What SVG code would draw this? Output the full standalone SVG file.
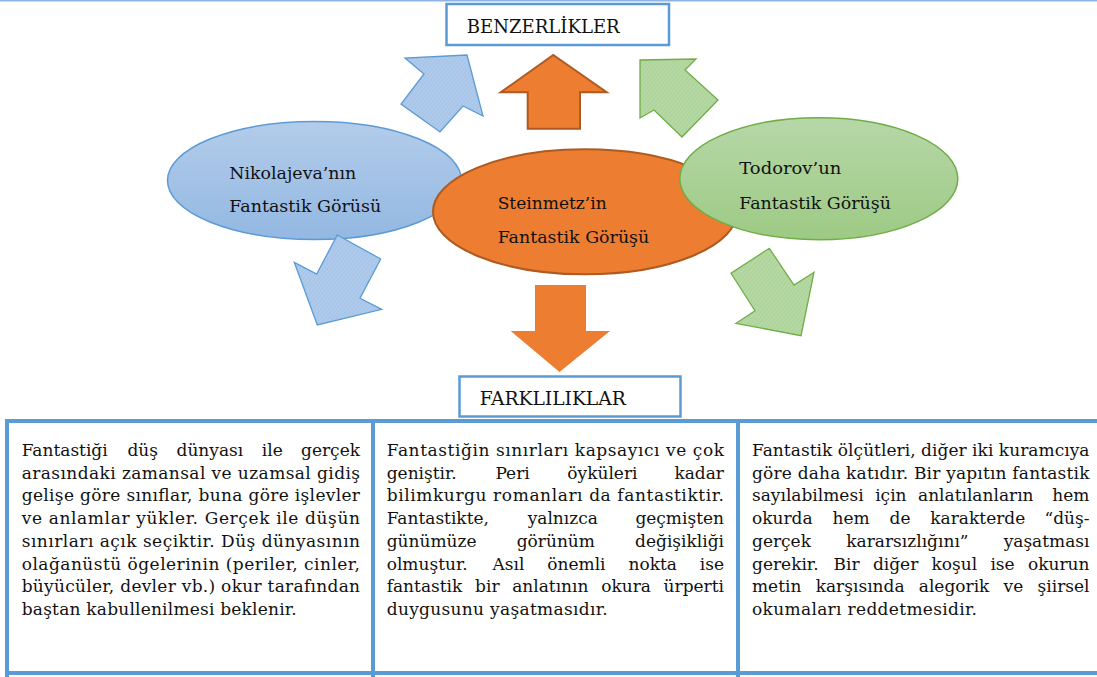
<svg xmlns="http://www.w3.org/2000/svg" width="1097" height="677" viewBox="0 0 1097 677">
<style>
.t{font-family:"DejaVu Serif","Liberation Serif",serif;font-size:17px;fill:#111}
.n{font-family:"DejaVu Serif","Liberation Serif",serif;font-size:17.5px;fill:#111}
.h{font-family:"DejaVu Serif","Liberation Serif",serif;font-size:18px;fill:#111}
.box{fill:#fff;stroke:#5B9BD5;stroke-width:2.5}
.tbl{stroke:#5B9BD5;stroke-width:4;fill:none}
.e{text-anchor:end}
</style>
<defs>
<linearGradient id="gb" x1="0" y1="0" x2="0" y2="1"><stop offset="0" stop-color="#B3CCEA"/><stop offset="1" stop-color="#93B8E2"/></linearGradient>
<linearGradient id="gg" x1="0" y1="0" x2="0" y2="1"><stop offset="0" stop-color="#B7D7A8"/><stop offset="1" stop-color="#9DCA84"/></linearGradient>
<pattern id="hb" patternUnits="userSpaceOnUse" width="3" height="3" patternTransform="rotate(40)"><rect width="3" height="3" fill="#AFCAEA"/><line x1="0" y1="0" x2="0" y2="3" stroke="#9ABDE5" stroke-width="1"/></pattern>
<pattern id="hg" patternUnits="userSpaceOnUse" width="3" height="3" patternTransform="rotate(40)"><rect width="3" height="3" fill="#B6D8A4"/><line x1="0" y1="0" x2="0" y2="3" stroke="#A1CC8A" stroke-width="1"/></pattern>
</defs>
<line x1="0" y1="0.8" x2="1097" y2="0.8" stroke="#8EB4E3" stroke-width="1.6"/>

<g id="benzerlikler">
<rect class="box" x="446.5" y="4" width="222.5" height="41"/>
<text class="h" x="466.7" y="33.3" textLength="153" lengthAdjust="spacingAndGlyphs">BENZERLİKLER</text>
</g>

<g id="nikolajeva">
<ellipse cx="314.5" cy="180.5" rx="147" ry="59" fill="url(#gb)" stroke="#5B9BD5" stroke-width="1.5"/>
<text class="n" x="229.3" y="179" textLength="127" lengthAdjust="spacingAndGlyphs">Nikolajeva’nın</text>
<text class="n" x="229.3" y="211.7" textLength="152" lengthAdjust="spacingAndGlyphs">Fantastik Görüsü</text>
</g>

<g id="steinmetz">
<ellipse cx="585" cy="211.8" rx="152" ry="62.5" fill="#ED7D31" stroke="#AE5A21" stroke-width="2"/>
<text class="n" x="497.7" y="209" textLength="109" lengthAdjust="spacingAndGlyphs">Steinmetz’in</text>
<text class="n" x="497.7" y="242.7" textLength="151.6" lengthAdjust="spacingAndGlyphs">Fantastik Görüşü</text>
</g>

<g id="todorov">
<ellipse cx="818.8" cy="178.7" rx="139" ry="61" fill="url(#gg)" stroke="#70AD47" stroke-width="1.5"/>
<text class="n" x="739.3" y="174.3" textLength="102" lengthAdjust="spacingAndGlyphs">Todorov’un</text>
<text class="n" x="739.3" y="209.3" textLength="151.7" lengthAdjust="spacingAndGlyphs">Fantastik Görüşü</text>
</g>

<g id="connectors">
<polygon points="467,55 483,116 463,106 440,132 401,104 424,74 405,58" fill="url(#hb)" stroke="#5B9BD5" stroke-width="1.3"/>
<polygon points="553.3,55 606.7,92.3 580,92.3 580,128.7 527.7,128.7 527.7,92.3 500.7,92.3" fill="#ED7D31" stroke="#AE5A21" stroke-width="2"/>
<polygon points="640,60 696,59 685,70 718,100 682,137 654,110 640,118" fill="url(#hg)" stroke="#70AD47" stroke-width="1.3"/>
<polygon points="337.3,235 380.7,259 360,298.3 381.7,309.3 317.3,325 294.3,262.3 316.7,274" fill="url(#hb)" stroke="#5B9BD5" stroke-width="1.3"/>
<polygon points="535,285 586,285 586,331 610,331 559.5,372 510.7,331 535,331" fill="#ED7D31"/>
<polygon points="769.3,248.3 794,285 814,272.3 801,335.7 736,323.3 755,310.7 731,273.3" fill="url(#hg)" stroke="#70AD47" stroke-width="1.3"/>
</g>

<g id="farkliliklar">
<rect class="box" x="459.5" y="376.5" width="221" height="40"/>
<text class="h" x="479.7" y="404.5" textLength="146" lengthAdjust="spacingAndGlyphs">FARKLILIKLAR</text>
</g>

<g id="table">
<line class="tbl" x1="7" y1="421" x2="1097" y2="421"/>
<line class="tbl" x1="7" y1="673" x2="1097" y2="673"/>
<line class="tbl" x1="7" y1="419" x2="7" y2="677"/>
<line class="tbl" x1="373" y1="419" x2="373" y2="677"/>
<line class="tbl" x1="738" y1="419" x2="738" y2="677"/>
</g>

<g id="col1">
<text class="t" x="21.7" y="456">Fantastiği</text><text class="t" x="127.4" y="456">düş</text><text class="t" x="176.5" y="456">dünyası</text><text class="t" x="261.8" y="456">ile</text><text class="t e" x="360" y="456">gerçek</text>
<text class="t" x="21.7" y="478.7" textLength="338.3" lengthAdjust="spacing">arasındaki zamansal ve uzamsal gidiş</text>
<text class="t" x="21.7" y="501.4" textLength="338.3" lengthAdjust="spacing">gelişe göre sınıflar, buna göre işlevler</text>
<text class="t" x="21.7" y="524.1" textLength="338.3" lengthAdjust="spacing">ve anlamlar yükler. Gerçek ile düşün</text>
<text class="t" x="21.7" y="546.8" textLength="338.3" lengthAdjust="spacing">sınırları açık seçiktir. Düş dünyasının</text>
<text class="t" x="21.7" y="569.5" textLength="338.3" lengthAdjust="spacing">olağanüstü ögelerinin (periler, cinler,</text>
<text class="t" x="21.7" y="592.2" textLength="338.3" lengthAdjust="spacing">büyücüler, devler vb.) okur tarafından</text>
<text class="t" x="21.7" y="614.9" textLength="275" lengthAdjust="spacing">baştan kabullenilmesi beklenir.</text>
</g>

<g id="col2">
<text class="t" x="386.7" y="456" textLength="337.3" lengthAdjust="spacing">Fantastiğin sınırları kapsayıcı ve çok</text>
<text class="t" x="386.7" y="478.7">geniştir.</text><text class="t" x="495.4" y="478.7">Peri</text><text class="t" x="567.3" y="478.7">öyküleri</text><text class="t e" x="724" y="478.7">kadar</text>
<text class="t" x="386.7" y="501.4" textLength="337.3" lengthAdjust="spacing">bilimkurgu romanları da fantastiktir.</text>
<text class="t" x="386.7" y="524.1">Fantastikte,</text><text class="t" x="527.7" y="524.1">yalnızca</text><text class="t e" x="724" y="524.1">geçmişten</text>
<text class="t" x="386.7" y="546.8">günümüze</text><text class="t" x="516.7" y="546.8">görünüm</text><text class="t e" x="724" y="546.8">değişikliği</text>
<text class="t" x="386.7" y="569.5">olmuştur.</text><text class="t" x="492.5" y="569.5">Asıl</text><text class="t" x="547.3" y="569.5">önemli</text><text class="t" x="628.5" y="569.5">nokta</text><text class="t e" x="724" y="569.5">ise</text>
<text class="t" x="386.7" y="592.2">fantastik</text><text class="t" x="475.1" y="592.2">bir</text><text class="t" x="512.2" y="592.2">anlatının</text><text class="t" x="601.2" y="592.2">okura</text><text class="t e" x="724" y="592.2">ürperti</text>
<text class="t" x="386.7" y="614.9" textLength="221" lengthAdjust="spacing">duygusunu yaşatmasıdır.</text>
</g>

<g id="col3">
<text class="t" x="752" y="456" textLength="337.5" lengthAdjust="spacing">Fantastik ölçütleri, diğer iki kuramcıya</text>
<text class="t" x="752" y="478.7" textLength="337.5" lengthAdjust="spacing">göre daha katıdır. Bir yapıtın fantastik</text>
<text class="t" x="752" y="501.4">sayılabilmesi</text><text class="t" x="875.2" y="501.4">için</text><text class="t" x="918" y="501.4">anlatılanların</text><text class="t e" x="1089.5" y="501.4">hem</text>
<text class="t" x="752" y="524.1">okurda</text><text class="t" x="832.5" y="524.1">hem</text><text class="t" x="889.5" y="524.1">de</text><text class="t" x="930.3" y="524.1">karakterde</text><text class="t e" x="1089.5" y="524.1">“düş-</text>
<text class="t" x="752" y="546.8">gerçek</text><text class="t" x="846.3" y="546.8">kararsızlığını”</text><text class="t e" x="1089.5" y="546.8">yaşatması</text>
<text class="t" x="752" y="569.5">gerekir.</text><text class="t" x="833.6" y="569.5">Bir</text><text class="t" x="872.9" y="569.5">diğer</text><text class="t" x="931.5" y="569.5">koşul</text><text class="t" x="990.4" y="569.5">ise</text><text class="t e" x="1089.5" y="569.5">okurun</text>
<text class="t" x="752" y="592.2">metin</text><text class="t" x="815.7" y="592.2">karşısında</text><text class="t" x="918.8" y="592.2">alegorik</text><text class="t" x="1003.6" y="592.2">ve</text><text class="t e" x="1089.5" y="592.2">şiirsel</text>
<text class="t" x="752" y="614.9" textLength="225" lengthAdjust="spacing">okumaları reddetmesidir.</text>
</g>
</svg>
